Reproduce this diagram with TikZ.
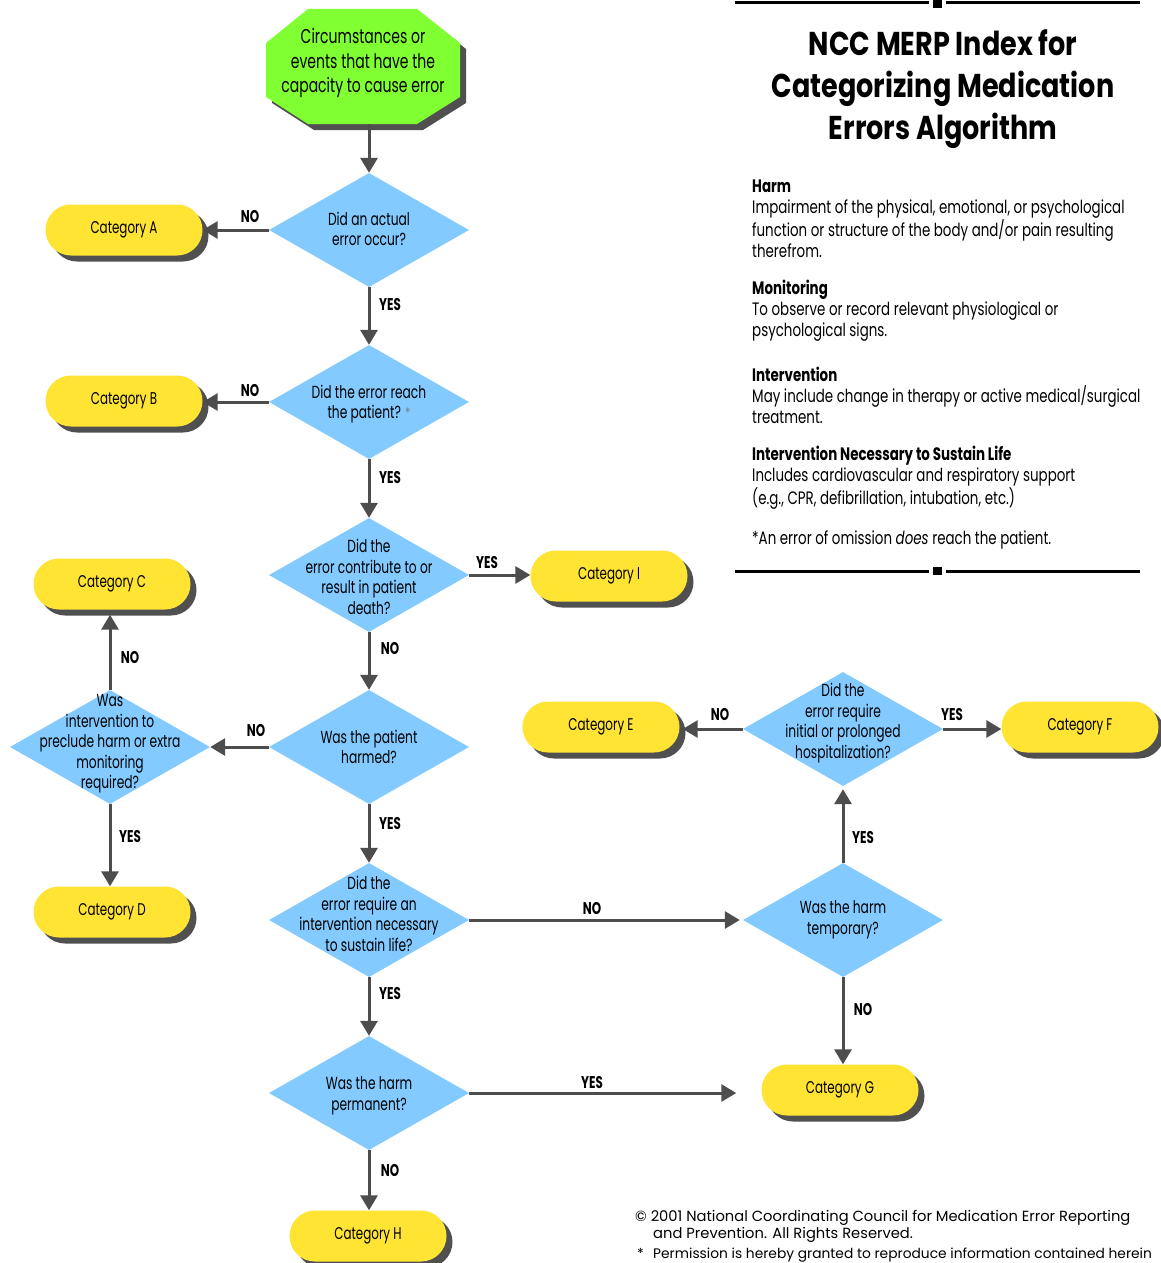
\documentclass[tikz,border=0pt]{standalone}
\usepackage{fontspec}
\setmainfont{Poppins}[FakeStretch=0.7]
\newfontfamily\copyfont{Poppins}
\newfontfamily\titlefont{Poppins}[FakeStretch=0.82]
\newfontfamily\deffont{Poppins}[FakeStretch=0.745]
\usetikzlibrary{arrows.meta,shapes.geometric,shapes.misc,shadows}
\definecolor{dblue}{RGB}{130,202,255}
\definecolor{cyel}{RGB}{255,228,51}
\definecolor{sgreen}{RGB}{128,255,51}
\definecolor{arr}{RGB}{77,77,77}
\definecolor{shad}{RGB}{80,80,80}
\tikzset{
  dia/.style={diamond, fill=dblue, minimum width=200pt, minimum height=114pt, inner sep=0pt},
  dtext/.style={align=center, inner sep=0pt, font=\fontsize{17.5}{20.5}\selectfont},
  cat/.style={rounded rectangle, fill=cyel, minimum width=157pt, minimum height=51pt, inner sep=0pt,
    drop shadow={shadow xshift=6pt, shadow yshift=-6pt, fill=shad, opacity=1},
    font=\fontsize{17}{20}\selectfont},
  lab/.style={inner sep=0pt, font=\bfseries\fontsize{17}{20}\selectfont},
  arrow/.style={draw=arr, line width=3pt, -{Triangle[length=15pt,width=17pt]}},
  deftext/.style={anchor=west, align=left, inner sep=0pt, font=\deffont\fontsize{18}{21}\selectfont},
}
\begin{document}
\begin{tikzpicture}[x=1pt,y=-1pt]
\useasboundingbox (0,0) rectangle (1160,1263);
\fill[white] (0,0) rectangle (1160,1263);

% start octagon
\fill[shad] (314,15) -- (423,15) -- (466,49) -- (466,103) -- (423,130) -- (314,130) -- (272,103) -- (272,49) -- cycle;
\fill[sgreen] (308,9) -- (417,9) -- (460,43) -- (460,97) -- (417,124) -- (308,124) -- (266,97) -- (266,43) -- cycle;
\node[inner sep=0pt, minimum width=194pt, minimum height=115pt] (start) at (369,66.5) {};
\node[align=center, inner sep=0pt, font=\fontsize{20}{24.5}\selectfont] (startt) at (363,63) {Circumstances or\\events that have the\\capacity to cause error};

% decisions
\node[dia] (q1) at (369,230) {};
\node[dtext] (q1t) at (369,229) {Did an actual\\error occur?};
\node[dia] (q2) at (369,402) {};
\node[dtext] (q2t) at (369,404) {Did the error reach\\the patient? {\fontsize{15}{15}\selectfont\color{black!50}*}};
\node[dia] (q3) at (369,575) {};
\node[dtext] (q3t) at (369,577) {Did the\\error contribute to or\\result in patient\\death?};
\node[dia] (q4) at (369,747) {};
\node[dtext] (q4t) at (369,747) {Was the patient\\harmed?};
\node[dia] (q5) at (369,920) {};
\node[dtext] (q5t) at (369,914) {Did the\\error require an\\intervention necessary\\to sustain life?};
\node[dia] (q6) at (369,1093) {};
\node[dtext] (q6t) at (369,1096) {Was the harm\\permanent?};
\node[dia] (qc) at (110,747) {};
\node[dtext] (qct) at (110,744) {Was\\intervention to\\preclude harm or extra\\monitoring\\required?};
\node[dia] (qt) at (843,920) {};
\node[dtext] (qtt) at (843,920) {Was the harm\\temporary?};
\node[dia] (qh) at (843,729) {};
\node[dtext] (qht) at (843,723) {Did the\\error require\\initial or prolonged\\hospitalization?};

% categories
\node[cat] (A) at (124,230) {Category A};
\node[cat] (B) at (124,401) {Category B};
\node[cat] (C) at (112,584) {Category C};
\node[cat] (D) at (112,912) {Category D};
\node[cat] (I) at (609,576) {Category I};
\node[cat] (E) at (601,727) {Category E};
\node[cat] (F) at (1080,727) {Category F};
\node[cat] (G) at (840,1090) {Category G};
\node[cat] (H) at (368,1236) {Category H};

% arrows
\draw[arrow] (start.south -| q1.north) -- (q1.north);
\draw[arrow] (q1.west) -- (q1.west -| A.east);
\draw[arrow] (q1.south) -- (q2.north);
\draw[arrow] (q2.west) -- (q2.west -| B.east);
\draw[arrow] (q2.south) -- (q3.north);
\draw[arrow] (q3.east) -- (q3.east -| I.west);
\draw[arrow] (q3.south) -- (q4.north);
\draw[arrow] (q4.west) -- (qc.east);
\draw[arrow, shorten >=5pt] (qc.north) -- (qc.north |- C.south);
\draw[arrow] (qc.south) -- (qc.south |- D.north);
\draw[arrow] (q4.south) -- (q5.north);
\draw[arrow, shorten >=3pt] (q5.east) -- (qt.west);
\draw[arrow, shorten >=3pt] (qt.north) -- (qh.south);
\draw[arrow, shorten >=3pt] (qh.west) -- (qh.west -| E.east);
\draw[arrow] (qh.east) -- (qh.east -| F.west);
\draw[arrow] (qt.south) -- (qt.south |- G.north);
\draw[arrow] (q5.south) -- (q6.north);
\draw[arrow, shorten >=25pt] (q6.east) -- (q6.east -| G.west);
\draw[arrow] (q6.south) -- (q6.south |- H.north);

% labels
\node[lab] (l1) at (250,217) {NO};
\node[lab] (l2) at (390,305) {YES};
\node[lab] (l3) at (250,391) {NO};
\node[lab] (l4) at (390,478) {YES};
\node[lab] (l5) at (487,563) {YES};
\node[lab] (l6) at (390,648) {NO};
\node[lab] (l7) at (130,657) {NO};
\node[lab] (l8) at (256,730) {NO};
\node[lab] (l9) at (130,836) {YES};
\node[lab] (l10) at (390,823) {YES};
\node[lab] (l11) at (592,908) {NO};
\node[lab] (l12) at (390,993) {YES};
\node[lab] (l13) at (592,1082) {YES};
\node[lab] (l14) at (390,1170) {NO};
\node[lab] (l15) at (720,714) {NO};
\node[lab] (l16) at (952,714) {YES};
\node[lab] (l17) at (863,837) {YES};
\node[lab] (l18) at (863,1009) {NO};

% right panel
\draw[line width=3pt] (735,3) -- (929,3);
\fill (933,0) rectangle (942,8);
\draw[line width=3pt] (946,3) -- (1140,3);
\draw[line width=3pt] (735,571) -- (929,571);
\fill (933,567) rectangle (942,575);
\draw[line width=3pt] (946,571) -- (1140,571);

\node[align=center, inner sep=0pt, font=\titlefont\bfseries\fontsize{33}{42}\selectfont] (title) at (943,89) {NCC MERP Index for\\Categorizing Medication\\Errors Algorithm};

\node[deftext] (harm) at (752,218.5) {{\bfseries Harm}\\Impairment of the physical, emotional, or psychological\\function or structure of the body and/or pain resulting\\therefrom.};
\node[deftext] (mon) at (752,311) {{\bfseries Monitoring}\\To observe or record relevant physiological or\\psychological signs.};
\node[deftext] (int) at (752,395) {{\bfseries Intervention}\\May include change in therapy or active medical/surgical\\treatment.};
\node[deftext] (nec) at (752,477.5) {{\bfseries Intervention Necessary to Sustain Life}\\Includes cardiovascular and respiratory support\\(e.g., CPR, defibrillation, intubation, etc.)};
\node[deftext] (omit) at (752,540) {*An error of omission \textit{does} reach the patient.};

% copyright
\node[anchor=west, align=left, inner sep=0pt, font=\copyfont\fontsize{14.7}{17}\selectfont] (copy) at (635,1226.5) {© 2001 National Coordinating Council for Medication Error Reporting\\\hspace*{18pt}and Prevention. All Rights Reserved.};
\node[anchor=west, inner sep=0pt, font=\copyfont\fontsize{13.8}{17}\selectfont] (perm) at (637,1255) {\makebox[16pt][l]{*}Permission is hereby granted to reproduce information contained herein};
\end{tikzpicture}
\end{document}
